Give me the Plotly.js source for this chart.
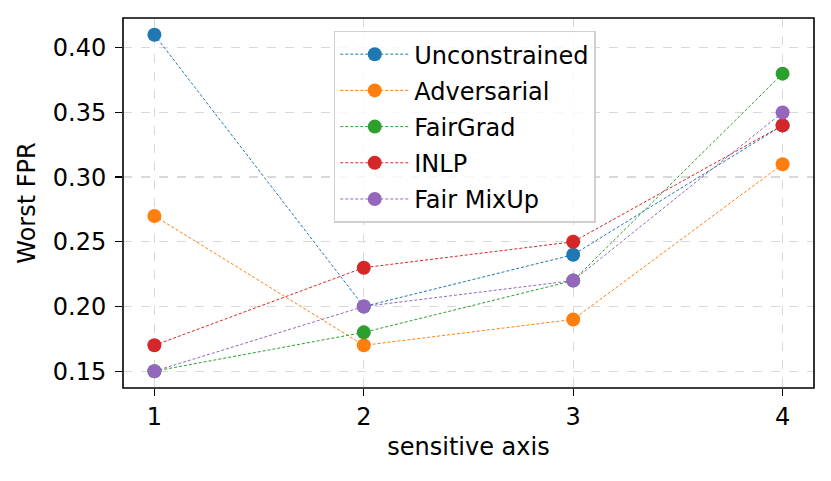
<!DOCTYPE html>
<html>
<head>
<meta charset="utf-8">
<script src="https://cdn.plot.ly/plotly-3.0.1.min.js"></script>
<style>
  html, body { margin: 0; padding: 0; background: #fff; }
  #chart { width: 831px; height: 481px; }
</style>
</head>
<body>
<div id="chart"></div>
<script>
const axisValues = [1, 2, 3, 4];

const unconstrained = [0.41, 0.20, 0.24, 0.34];
const adversarial = [0.27, 0.17, 0.19, 0.31];
const fairGrad = [0.15, 0.18, 0.22, 0.38];
const inlp = [0.17, 0.23, 0.25, 0.34];
const fairMixUp = [0.15, 0.20, 0.22, 0.35];

const seriesNames = ["Unconstrained", "Adversarial", "FairGrad", "INLP", "Fair MixUp"];
const seriesColors = ["#1f77b4", "#ff7f0e", "#2ca02c", "#d62728", "#9467bd"];

const yTicks = [0.15, 0.20, 0.25, 0.30, 0.35, 0.40];

const makeTrace = (y, name, color, idx) => {
    return {
        x: axisValues,
        y: y,
        name: name,
        legendgroup: "g" + idx,
        type: "scatter",
        mode: "lines+markers",
        line: { color: color, width: 1, dash: "3px,2px" },
        marker: { color: color, size: 14 }
    };
};

const allSeries = [unconstrained, adversarial, fairGrad, inlp, fairMixUp];
const data = allSeries.map((s, i) => makeTrace(s, seriesNames[i], seriesColors[i], i));

const fontFamily = "DejaVu Sans, sans-serif";
const fontSize = 24;

const axisCommon = {
    ticks: "outside",
    ticklen: 7,
    tickwidth: 1.3,
    tickcolor: "#000",
    showline: false,
    showgrid: true,
    gridcolor: "#d9d9d9",
    griddash: "dash",
    gridwidth: 1.3,
    zeroline: false,
    tickfont: { family: fontFamily, size: fontSize, color: "#000" }
};

const layout = {
    width: 831,
    height: 481,
    margin: { l: 123, r: 17, t: 18, b: 93 },
    paper_bgcolor: "#fff",
    plot_bgcolor: "#fff",
    font: { family: fontFamily, size: fontSize, color: "#000" },
    showlegend: true,
    legend: {
        x: 0.305,
        y: 0.966,
        xanchor: "left",
        yanchor: "top",
        bgcolor: "rgba(255,255,255,0.8)",
        bordercolor: "#d0d0d0",
        borderwidth: 1.5,
        traceorder: "grouped",
        tracegroupgap: 2,
        itemwidth: 69,
        font: { family: fontFamily, size: fontSize, color: "#000" }
    },
    xaxis: Object.assign({}, axisCommon, {
        range: [0.85, 4.15],
        tickvals: axisValues,
        ticktext: axisValues.map(String),
        title: { text: "sensitive axis", font: { size: fontSize }, standoff: 8 }
    }),
    yaxis: Object.assign({}, axisCommon, {
        range: [0.137, 0.423],
        tickvals: yTicks,
        ticktext: yTicks.map(v => v.toFixed(2)),
        ticklabelstandoff: 4,
        title: { text: "Worst FPR", font: { size: fontSize }, standoff: 10 }
    }),
    shapes: [{
        type: "rect",
        xref: "paper", yref: "paper",
        x0: 0, x1: 1, y0: 0, y1: 1,
        line: { color: "#000", width: 1.6 },
        layer: "above"
    }]
};

Plotly.newPlot("chart", data, layout, { displayModeBar: false, staticPlot: true });
</script>
</body>
</html>
